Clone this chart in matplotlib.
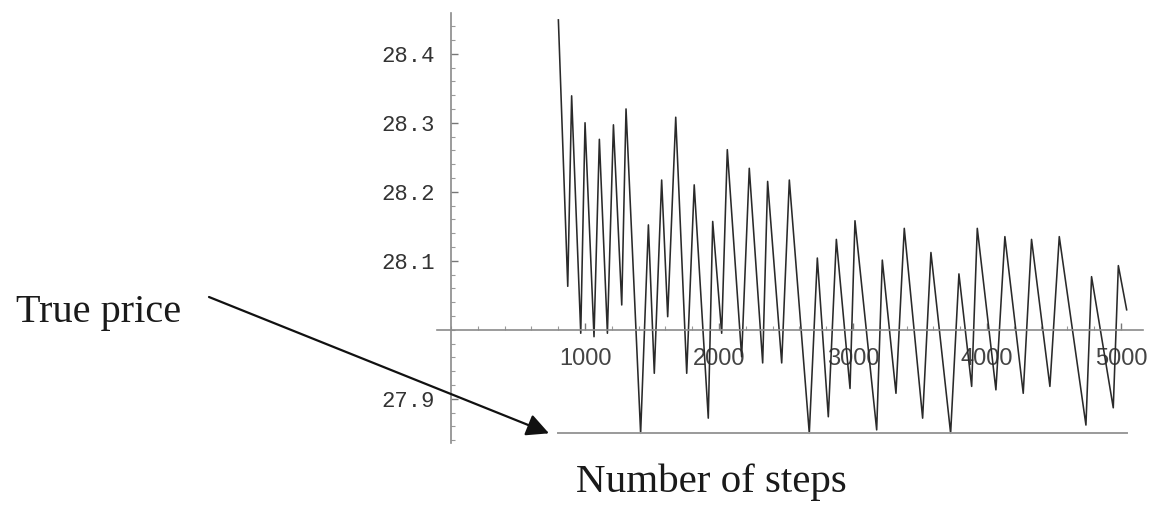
"""
Ценовой процесс по шагам и истинная цена (стиль Mathematica)
"""
import matplotlib
matplotlib.use("Agg")
import matplotlib.pyplot as plt
from matplotlib.ticker import MultipleLocator, FixedLocator, FuncFormatter

steps = [801, 871, 900, 968, 1000, 1067, 1107, 1167, 1212, 1274,
         1306, 1415, 1473, 1517, 1572, 1617, 1677, 1759, 1815, 1920,
         1953, 2020, 2062, 2169, 2226, 2326, 2363, 2468, 2525, 2674,
         2734, 2816, 2876, 2978, 3015, 3177, 3219, 3321, 3383, 3520,
         3582, 3729, 3791, 3886, 3928, 4067, 4134, 4271, 4333, 4470,
         4540, 4739, 4781, 4943, 4981, 5043]
prices = [28.449, 28.063, 28.339, 27.995, 28.300, 27.990, 28.276, 27.995, 28.297, 28.036,
          28.320, 27.850, 28.152, 27.937, 28.217, 28.019, 28.308, 27.937, 28.210, 27.872,
          28.157, 27.995, 28.261, 27.961, 28.234, 27.952, 28.215, 27.952, 28.217, 27.850,
          28.104, 27.874, 28.131, 27.915, 28.158, 27.855, 28.101, 27.908, 28.147, 27.872,
          28.112, 27.850, 28.081, 27.918, 28.147, 27.913, 28.135, 27.908, 28.131, 27.918,
          28.135, 27.862, 28.077, 27.887, 28.093, 28.029]

true_price = 27.85
true_price_steps = [800, 5043]

x_ticks = [1000, 2000, 3000, 4000, 5000]
y_ticks = [27.9, 28.1, 28.2, 28.3, 28.4]
axis_cross = 28.0

W, H = 1153, 508


def create_chart(output_path):
    fig = plt.figure(figsize=(W / 100, H / 100), dpi=100)
    fig.patch.set_facecolor('white')

    # оси в пикселях: слева 437, справа 1143, сверху 13, снизу 443
    ax = fig.add_axes([437 / W, (H - 443) / H, (1143 - 437) / W, (443 - 13) / H])
    ax.set_xlim(-105, 5165)
    ax.set_ylim(27.836, 28.459)

    ax.plot(steps, prices, color='#2a2a2a', linewidth=1.15)
    ax.plot(true_price_steps, [true_price, true_price], color='#9a9a9a', linewidth=1.4)

    # оси пересекаются в точке (0, 28.0)
    ax.spines['left'].set_position(('data', 0))
    ax.spines['bottom'].set_position(('data', axis_cross))
    for spine in ['top', 'right']:
        ax.spines[spine].set_visible(False)
    for spine in ['left', 'bottom']:
        ax.spines[spine].set_color('#8a8a8a')
        ax.spines[spine].set_linewidth(1.2)

    ax.xaxis.set_major_locator(FixedLocator(x_ticks))
    ax.xaxis.set_minor_locator(MultipleLocator(200))
    ax.yaxis.set_major_locator(FixedLocator(y_ticks))
    ax.yaxis.set_minor_locator(MultipleLocator(0.02))
    ax.xaxis.set_major_formatter(FuncFormatter(lambda v, p: f'{v:.0f}'))
    ax.yaxis.set_major_formatter(FuncFormatter(lambda v, p: f'{v:.1f}'))

    ax.tick_params(axis='both', which='major', direction='in', length=5, width=1, color='#777777')
    ax.tick_params(axis='both', which='minor', direction='in', length=3, width=0.8, color='#999999')
    ax.tick_params(axis='x', which='major', pad=13, labelsize=17, labelcolor='#444444')
    ax.tick_params(axis='y', which='major', pad=12, labelsize=16, labelcolor='#333333')
    for lbl in ax.get_xticklabels():
        lbl.set_fontfamily('Liberation Sans')
    for lbl in ax.get_yticklabels():
        lbl.set_fontfamily('Liberation Mono')

    # подписи и стрелка
    fig.text(16 / W, (H - 322) / H, 'True price', fontsize=29, family='Liberation Serif',
             color='#1a1a1a', ha='left', va='baseline')
    fig.text(711 / W, (H - 492) / H, 'Number of steps', fontsize=29.5, family='Liberation Serif',
             color='#1a1a1a', ha='center', va='baseline')
    ax.annotate('', xy=(731, true_price), xycoords='data',
                xytext=(209 / W, (H - 297) / H), textcoords='figure fraction',
                arrowprops=dict(arrowstyle='-|>', mutation_scale=34, lw=1.6,
                                color='#111111', shrinkA=0, shrinkB=0),
                annotation_clip=False)

    fig.savefig(output_path, dpi=100, facecolor='white')
    plt.close(fig)


def main():
    create_chart('out.png')


if __name__ == "__main__":
    main()
